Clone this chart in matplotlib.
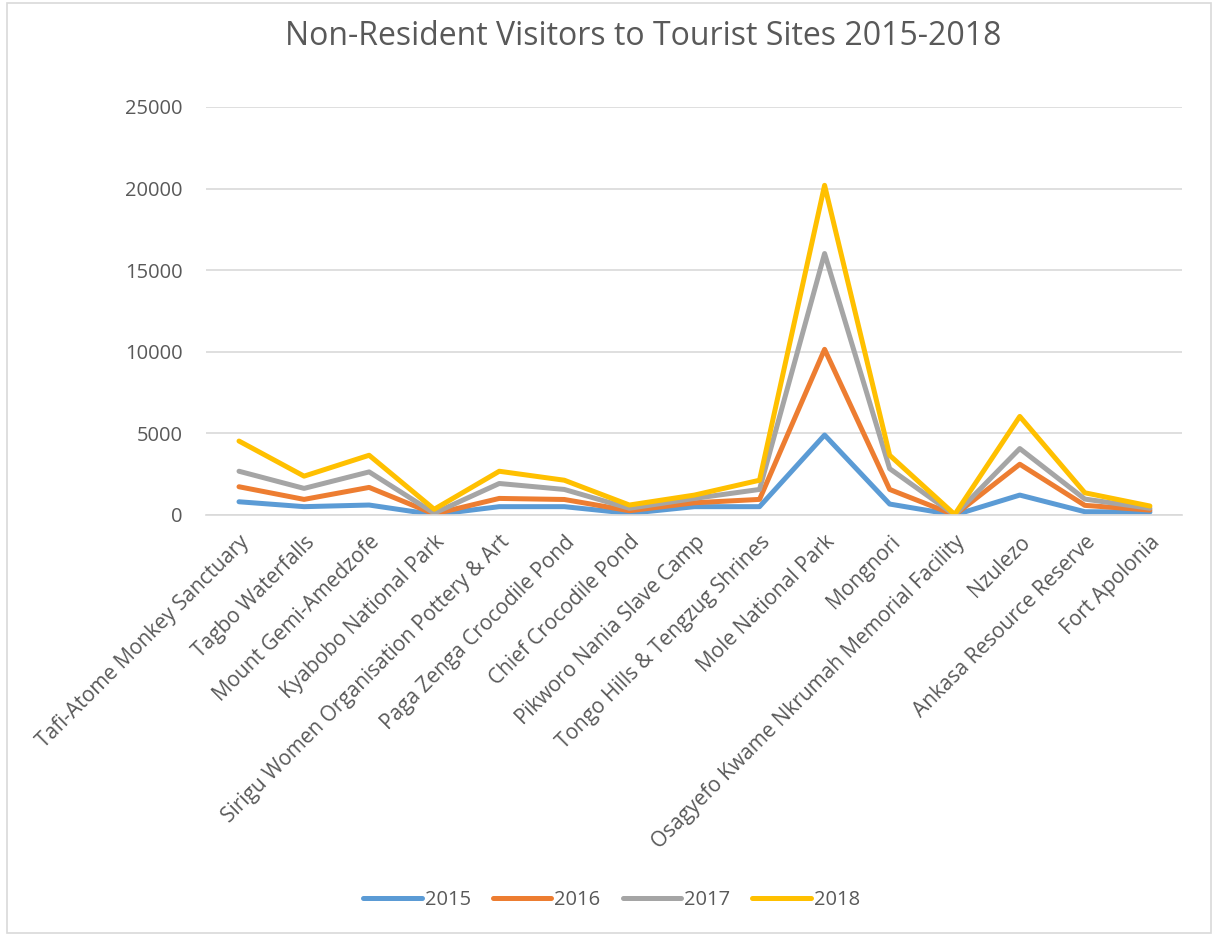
import numpy as np
import matplotlib.pyplot as plt
from matplotlib.patches import Rectangle

sites = [
    "Tafi-Atome Monkey Sanctuary",
    "Tagbo Waterfalls",
    "Mount Gemi-Amedzofe",
    "Kyabobo National Park",
    "Sirigu Women Organisation Pottery & Art",
    "Paga Zenga Crocodile Pond",
    "Chief Crocodile Pond",
    "Pikworo Nania Slave Camp",
    "Tongo Hills & Tengzug Shrines",
    "Mole National Park",
    "Mongnori",
    "Osagyefo Kwame Nkrumah Memorial Facility",
    "Nzulezo",
    "Ankasa Resource Reserve",
    "Fort Apolonia",
]

v2015 = [810, 510, 610, 20, 510, 510, 100, 510, 510, 4900, 670, 0, 1220, 200, 180]
v2016 = [1730, 955, 1690, 60, 1015, 950, 260, 750, 955, 10150, 1565, 0, 3110, 590, 300]
v2017 = [2680, 1630, 2640, 110, 1930, 1565, 410, 1015, 1565, 16020, 2840, 0, 4070, 975, 410]
v2018 = [4530, 2380, 3660, 350, 2680, 2130, 610, 1220, 2130, 20200, 3660, 30, 6040, 1360, 550]

years = ["2015", "2016", "2017", "2018"]
colors = ["#5B9BD5", "#ED7D31", "#A5A5A5", "#FFC000"]

plt.rcParams['font.family'] = ['Open Sans', 'DejaVu Sans']
txt = "#595959"

fig = plt.figure(figsize=(12.16, 9.36), dpi=100)
# thin frame around the whole chart
fig.patches.append(Rectangle((0.006, 0.003), 0.990, 0.994, transform=fig.transFigure,
                             fill=False, edgecolor="#D9D9D9", linewidth=1.2))

ax = fig.add_axes([0.1698, 0.4498, 0.8026, 0.4359])
x = np.arange(len(sites))
for vals, yr, c in zip([v2015, v2016, v2017, v2018], years, colors):
    ax.plot(x, vals, color=c, linewidth=3.6, label=yr, solid_capstyle='round',
            solid_joinstyle='round')

ax.set_xlim(-0.5, len(sites) - 0.5)
ax.set_ylim(0, 25000)
ax.set_yticks(range(0, 25001, 5000))
ax.yaxis.grid(True, color="#D9D9D9", linewidth=1.2)
ax.set_axisbelow(True)
for s in ["top", "right", "left"]:
    ax.spines[s].set_visible(False)
ax.spines["bottom"].set_color("#D9D9D9")
ax.spines["bottom"].set_linewidth(1.2)
ax.tick_params(axis='y', length=0, pad=17, labelsize=14.5, labelcolor=txt)
ax.tick_params(axis='x', length=0, pad=12, labelsize=15, labelcolor=txt)
ax.set_xticks(x)
ax.set_xticklabels(sites, rotation=45, ha='right', rotation_mode='anchor')

fig.text(0.529, 0.961, "Non-Resident Visitors to Tourist Sites 2015-2018",
         ha='center', va='center', fontsize=23, color=txt)

fig.legend(loc='center', bbox_to_anchor=(0.503, 0.038), ncol=4, frameon=False,
           fontsize=14.5, handlelength=2.9, columnspacing=1.1, handletextpad=0.15,
           labelcolor=txt)

fig.savefig("out.png", dpi=100)
